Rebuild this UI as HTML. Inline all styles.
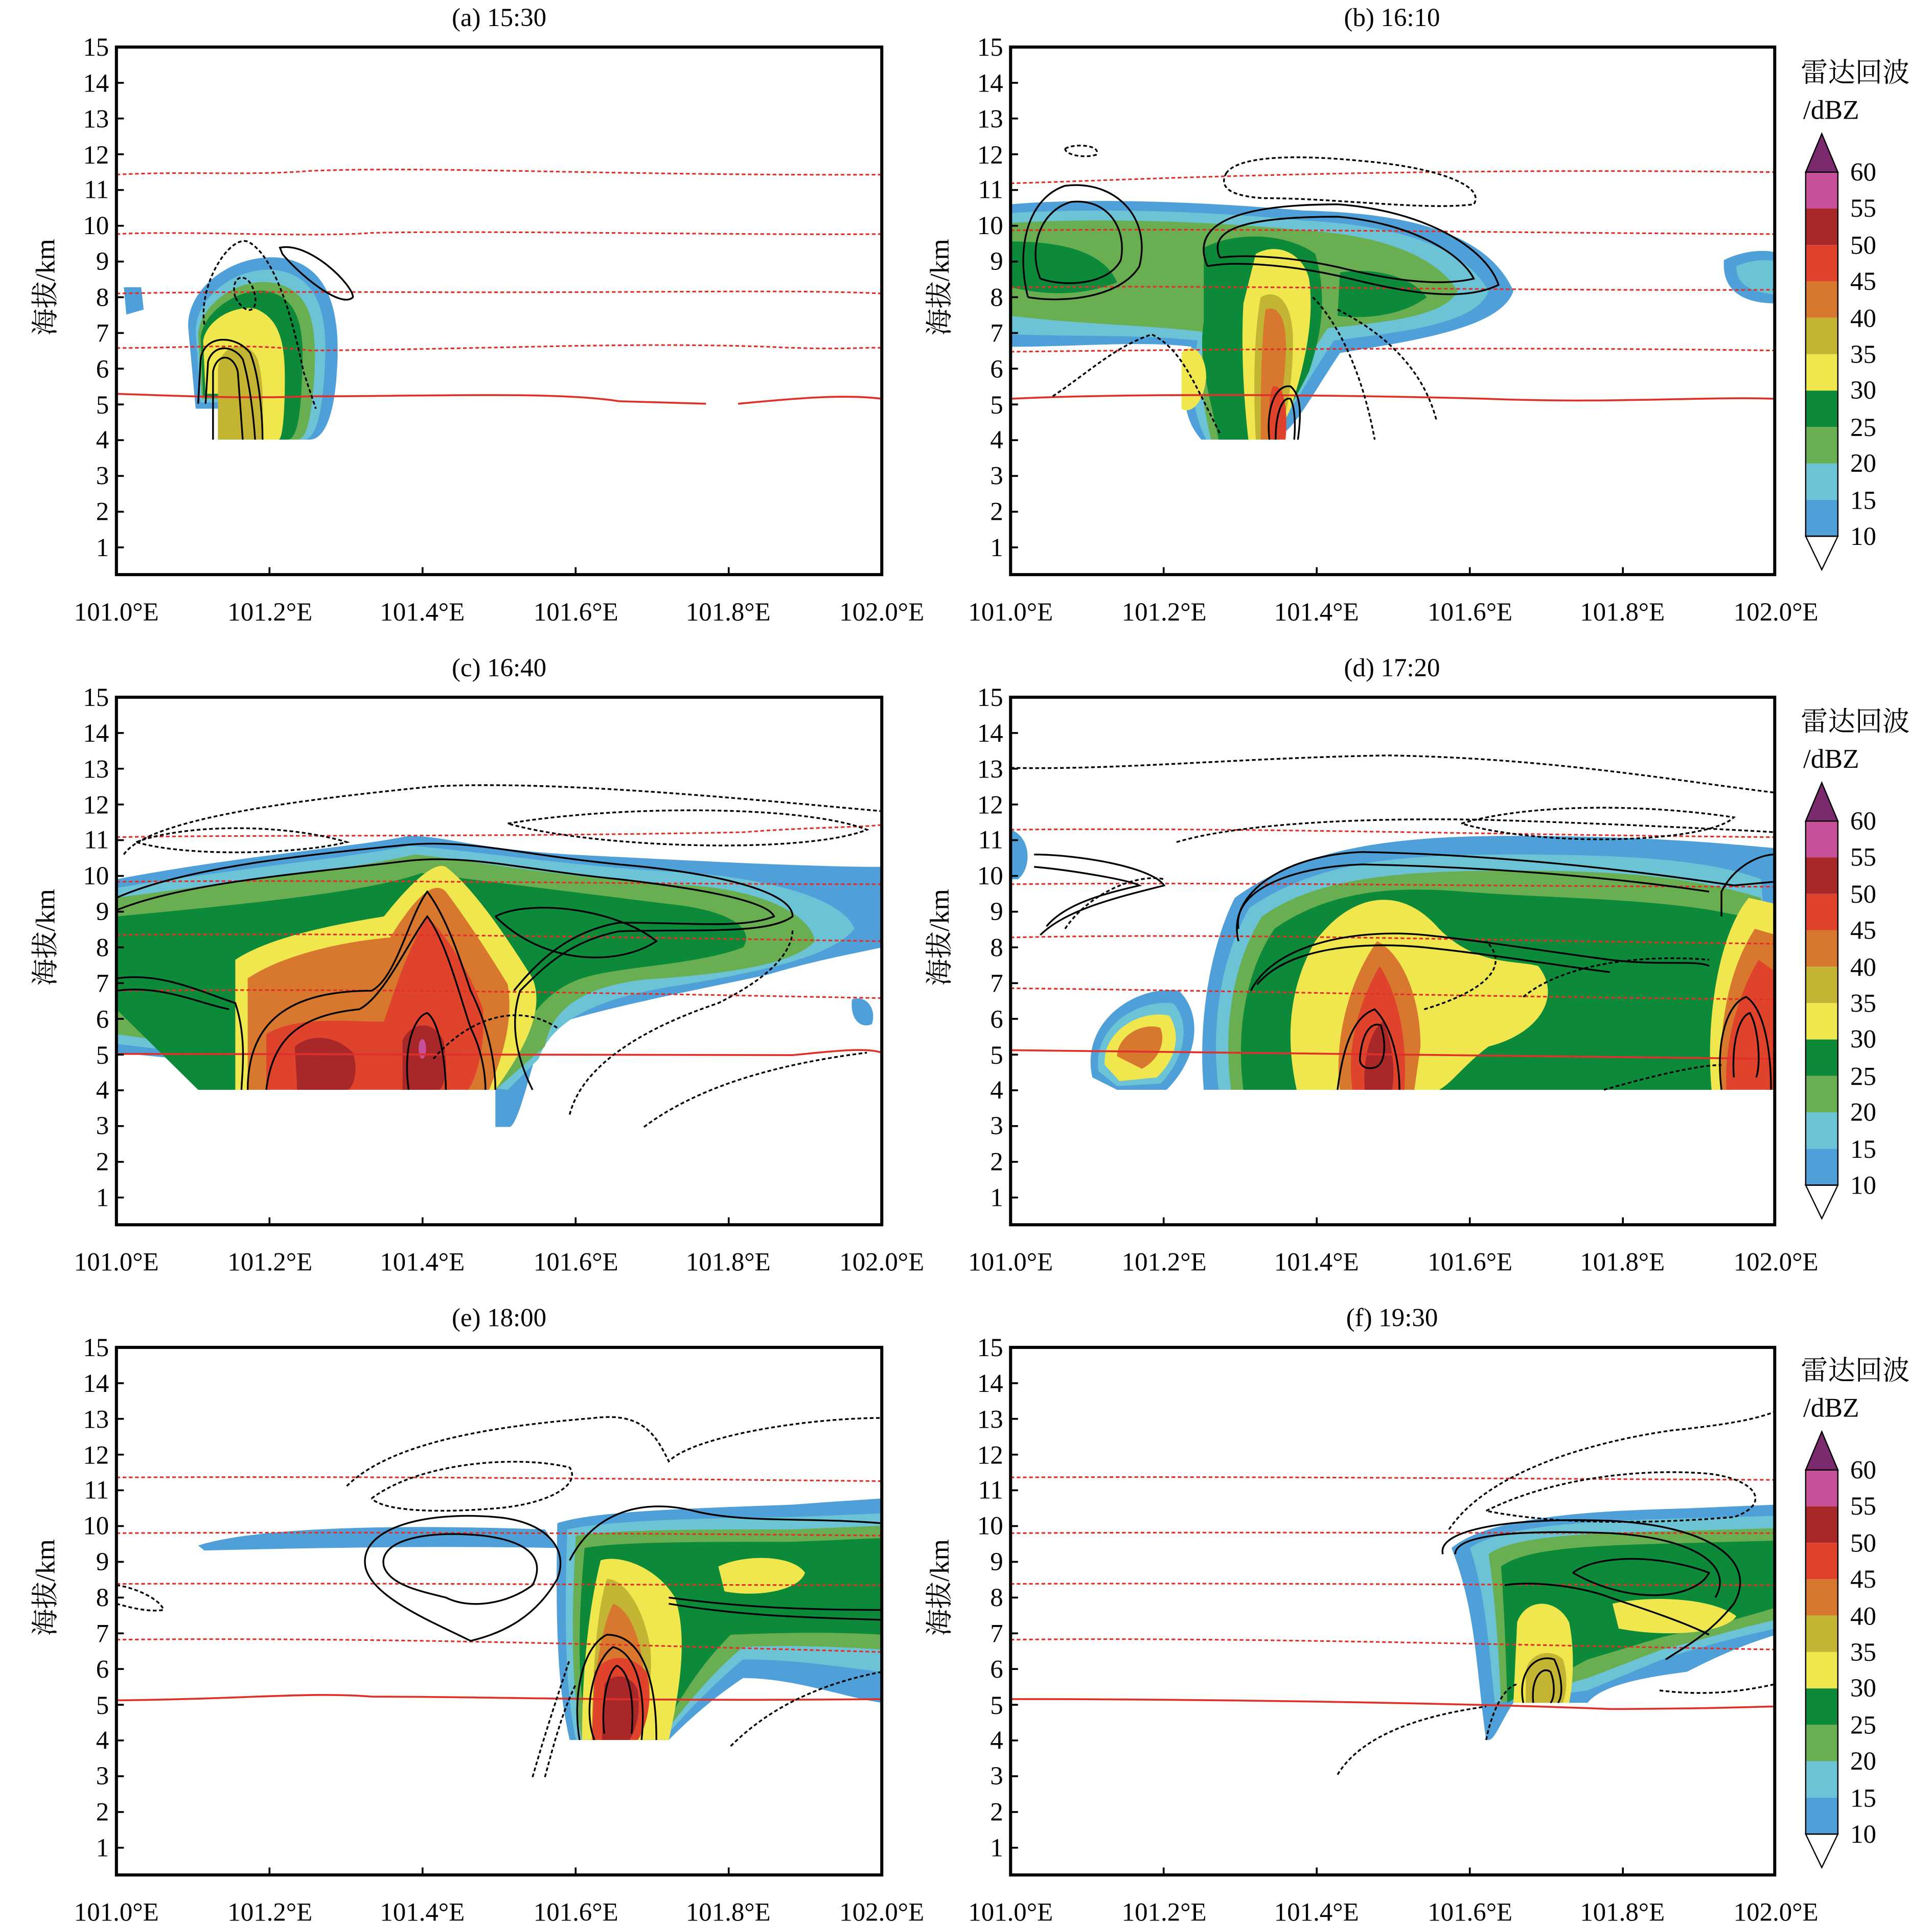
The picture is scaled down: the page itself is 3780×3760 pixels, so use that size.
<!DOCTYPE html>
<html><head><meta charset="utf-8"><style>
html,body{margin:0;padding:0;background:#fff}
svg{display:block}
text{font-family:"Liberation Serif","Noto Serif CJK SC",serif;fill:#000}
</style></head><body>
<svg width="3780" height="3760" viewBox="0 0 1560 1552" preserveAspectRatio="none" xmlns="http://www.w3.org/2000/svg">
<defs>
<clipPath id="pa"><rect x="94" y="38" width="618" height="426"/></clipPath>
</defs>

<!-- ===== Panel a ===== -->
<g clip-path="url(#pa)">
<path d="M100,232 L114,232 L116,250 L102,254 Z" fill="#4f9fd8"/>
<path d="M152,265 C150,235 185,205 225,208 C262,212 276,245 272,300 C270,335 262,355 250,355 L176,355 L176,330 L158,330 Z" fill="#4f9fd8"/>
<path d="M158,268 C158,240 190,215 222,218 C255,222 266,250 262,300 C260,335 255,355 245,355 L176,355 L176,325 L162,325 Z" fill="#6cc3d5"/>
<path d="M160,270 C162,245 192,225 218,228 C248,232 256,255 254,300 C252,335 248,355 240,355 L176,355 L176,322 L163,322 Z" fill="#6aae52"/>
<path d="M162,272 C165,250 195,232 215,235 C240,240 246,262 244,300 C243,335 240,355 232,355 L176,355 L176,320 L164,320 Z" fill="#0c8a3a"/>
<path d="M164,275 C168,255 195,245 208,250 C225,258 230,275 230,305 C230,335 228,355 225,355 L176,355 L176,318 L166,318 Z" fill="#f0e64e"/>
<path d="M176,300 C176,278 200,272 208,290 C214,310 212,340 212,355 L176,355 Z" fill="#c4b434"/>
</g>

<!-- ===== Panel b ===== -->
<g transform="translate(722,0)"><g clip-path="url(#pa)">
<path d="M94,165 C150,160 240,162 330,170 C420,172 480,190 500,235 C490,265 420,275 360,285 C330,330 320,355 300,355 L248,355 C235,340 230,320 240,280 C200,275 150,280 94,280 Z" fill="#4f9fd8"/>
<path d="M94,172 C160,168 250,170 330,178 C410,182 460,200 480,235 C470,262 410,268 355,275 C325,320 312,350 296,355 L252,355 C242,335 238,315 245,275 C200,270 150,272 94,270 Z" fill="#6cc3d5"/>
<path d="M94,180 C160,176 250,178 330,186 C400,190 440,210 455,235 C445,255 400,260 350,265 C320,310 305,345 292,355 L256,355 C250,330 246,310 250,268 C200,262 150,262 94,255 Z" fill="#6aae52"/>
<path d="M94,195 C140,195 170,205 180,228 C150,240 120,238 94,232 Z M250,200 C280,185 320,190 340,205 C350,240 345,270 335,300 C320,330 305,355 290,355 L262,355 C255,320 245,290 250,260 Z M360,220 C390,215 420,225 430,240 C410,255 380,258 358,255 Z" fill="#0c8a3a"/>
<path d="M292,205 C310,195 330,205 335,225 C340,260 330,300 320,330 C312,350 300,355 296,355 L286,355 C282,320 280,280 282,245 Z M232,285 C240,275 252,285 252,305 C250,325 240,335 232,330 Z" fill="#f0e64e"/>
<path d="M296,240 C310,232 322,245 322,275 C322,310 316,345 308,355 L292,355 C290,320 290,270 296,240 Z" fill="#c4b434"/>
<path d="M300,250 C312,245 318,262 316,290 C314,320 310,345 305,355 L296,355 C296,320 296,275 300,250 Z" fill="#d8782e"/>
<path d="M306,312 C316,310 318,335 316,355 L303,355 C303,335 302,318 306,312 Z" fill="#e0432c"/>
<path d="M670,210 C690,200 712,202 712,205 L712,245 C690,245 668,238 670,210 Z" fill="#4f9fd8"/>
<path d="M680,215 C695,208 712,210 712,212 L712,238 C695,236 680,232 680,215 Z" fill="#6cc3d5"/>
</g></g>

<!-- ===== Panel c ===== -->
<g transform="translate(0,525)"><g clip-path="url(#pa)">
<path d="M94,185 C200,165 280,160 330,150 C360,150 380,160 460,165 C560,170 650,175 712,175 L712,240 C690,245 660,250 620,262 C560,275 480,290 440,305 C430,330 420,380 412,385 L400,385 L400,355 L94,325 Z" fill="#4f9fd8"/>
<path d="M94,192 C200,175 280,168 330,158 C370,160 460,175 560,180 C620,185 680,200 690,225 C670,250 600,262 540,272 C480,282 445,300 435,330 L410,355 L94,318 Z" fill="#6cc3d5"/>
<path d="M94,200 C200,185 280,178 335,165 C370,168 460,185 560,190 C620,195 655,215 658,235 C640,255 580,262 520,266 C470,272 445,290 440,320 L400,355 L94,310 Z" fill="#6aae52"/>
<path d="M94,215 C200,205 300,195 340,180 C380,185 460,195 540,205 C590,210 610,225 600,240 C560,255 500,255 470,265 C440,275 420,300 400,355 L160,355 L94,290 Z" fill="#0c8a3a"/>
<path d="M190,250 C220,230 280,220 310,215 C330,190 350,170 360,175 C380,190 405,225 430,265 C440,290 425,320 400,355 L190,355 Z" fill="#f0e64e"/>
<path d="M200,265 C230,245 280,235 315,232 C335,200 350,185 360,195 C375,215 395,245 410,270 C415,300 405,330 395,355 L200,355 Z" fill="#d8782e"/>
<path d="M215,310 C240,295 280,300 310,300 C320,270 330,240 345,215 C360,230 380,260 390,290 C392,320 385,345 378,355 L215,355 Z" fill="#e0432c"/>
<path d="M238,320 C250,310 270,310 285,325 C290,340 285,355 280,355 L240,355 Z M325,315 C332,300 350,298 358,315 C362,335 360,350 355,355 L325,355 Z" fill="#a8282a"/>
<ellipse cx="341" cy="322" rx="3" ry="8" fill="#c7509a"/>
<path d="M688,282 C700,278 708,290 704,302 C695,306 686,298 688,282 Z" fill="#4f9fd8"/>
</g></g>

<!-- ===== Panel d ===== -->
<g transform="translate(722,525)"><g clip-path="url(#pa)">
<path d="M94,145 C110,150 112,175 100,185 L94,185 Z" fill="#4f9fd8"/>
<path d="M160,345 C150,300 195,270 230,275 C250,295 245,330 220,355 L180,355 Z" fill="#4f9fd8"/>
<path d="M165,340 C160,305 195,282 225,285 C240,300 235,330 215,350 L180,352 Z" fill="#6cc3d5"/>
<path d="M170,335 C168,308 198,290 222,295 C232,310 228,330 212,345 L182,348 Z" fill="#f0e64e"/>
<path d="M180,328 C180,312 200,300 215,305 C220,318 212,332 200,338 Z" fill="#d8782e"/>
<path d="M250,355 C245,300 255,240 275,200 C330,160 400,150 500,150 C600,150 660,155 712,160 L712,355 Z" fill="#4f9fd8"/>
<path d="M262,355 C255,300 265,245 287,208 C340,172 400,165 500,165 C600,165 660,170 700,185 L712,355 Z" fill="#6cc3d5"/>
<path d="M272,355 C265,300 275,250 297,215 C340,185 400,178 500,178 C600,178 650,185 700,200 L712,355 Z" fill="#6aae52"/>
<path d="M282,355 C275,300 287,255 307,225 C350,195 400,190 460,195 C520,200 600,200 660,210 L712,220 L712,355 Z" fill="#0c8a3a"/>
<path d="M325,355 C315,310 320,270 340,235 C370,195 410,190 440,225 C470,255 500,250 520,255 C540,280 520,310 480,320 C460,335 450,350 440,355 Z" fill="#f0e64e"/>
<path d="M360,355 C355,320 365,270 390,235 C410,245 425,280 425,320 L420,355 Z" fill="#d8782e"/>
<path d="M370,355 C365,320 375,285 392,255 C405,275 415,310 412,355 Z" fill="#e0432c"/>
<path d="M380,355 C378,330 385,305 395,300 C402,315 405,340 402,355 Z" fill="#a8282a"/>
<path d="M660,355 C655,300 665,230 690,200 L712,205 L712,355 Z" fill="#f0e64e"/>
<path d="M668,355 C665,310 672,260 695,225 L712,230 L712,355 Z" fill="#d8782e"/>
<path d="M672,355 C670,320 680,280 698,250 L712,260 L712,355 Z" fill="#e0432c"/>
</g></g>

<!-- ===== Panel e ===== -->
<g transform="translate(0,1050)"><g clip-path="url(#pa)">
<path d="M160,198 C200,185 300,180 440,185 L450,200 C350,198 250,200 165,202 Z" fill="#4f9fd8"/>
<path d="M450,180 C480,170 560,168 640,165 C680,162 712,160 712,160 L712,325 C680,320 640,305 600,305 C570,325 550,345 540,355 L460,355 C452,320 448,280 450,180 Z" fill="#4f9fd8"/>
<path d="M458,185 C490,178 560,176 640,175 L712,172 L712,300 C670,295 640,290 600,290 C570,315 548,340 535,355 L465,355 C458,320 455,280 458,185 Z" fill="#6cc3d5"/>
<path d="M465,190 C500,185 560,185 640,185 L712,182 L712,282 C680,280 640,278 600,280 C570,305 548,335 532,355 L470,355 C463,320 460,280 465,190 Z" fill="#6aae52"/>
<path d="M472,200 C500,195 560,195 640,195 L712,192 L712,270 C680,268 640,268 590,270 C560,300 545,330 530,355 L475,355 C468,320 465,280 472,200 Z" fill="#0c8a3a"/>
<path d="M485,210 C500,205 530,215 545,240 C555,270 550,310 540,355 L470,355 C470,300 475,250 485,210 Z" fill="#f0e64e"/>
<path d="M580,215 C600,205 640,205 650,220 C645,235 610,240 585,235 Z" fill="#f0e64e"/>
<path d="M490,225 C505,225 520,250 525,280 C528,310 520,340 515,355 L478,355 C478,300 482,250 490,225 Z" fill="#c4b434"/>
<path d="M495,245 C510,250 520,280 520,310 L512,355 L478,355 C478,310 485,265 495,245 Z" fill="#d8782e"/>
<path d="M480,300 C490,285 510,285 522,300 C528,320 522,345 515,355 L478,355 Z" fill="#e0432c"/>
<path d="M488,310 C495,300 510,302 515,315 C518,335 512,350 508,355 L486,355 Z" fill="#a8282a"/>
</g></g>

<!-- ===== Panel f ===== -->
<g transform="translate(722,1050)"><g clip-path="url(#pa)">
<path d="M450,200 C480,175 560,170 640,168 L712,165 L712,270 C680,280 660,290 640,300 C600,305 570,312 560,325 L500,325 C490,340 485,355 480,355 L478,355 C470,300 470,250 450,200 Z" fill="#4f9fd8"/>
<path d="M465,200 C490,182 560,178 640,176 L712,174 L712,265 C680,272 650,280 620,290 L560,315 L485,325 C480,280 478,240 465,200 Z" fill="#6cc3d5"/>
<path d="M480,205 C500,190 560,188 640,186 L712,184 L712,258 C680,265 650,275 620,282 L560,305 L490,325 C488,280 485,240 480,205 Z" fill="#6aae52"/>
<path d="M490,215 C510,200 560,198 640,196 L712,194 L712,248 C680,258 650,265 620,272 L560,290 L495,325 C494,280 492,240 490,215 Z" fill="#0c8a3a"/>
<path d="M503,260 C510,240 535,240 545,260 C550,285 548,310 545,325 L500,325 Z M580,245 C610,238 660,240 680,255 C670,270 620,272 585,265 Z" fill="#f0e64e"/>
<path d="M510,300 C512,285 530,280 540,290 C545,305 542,320 540,325 L510,325 Z" fill="#c4b434"/>
</g></g>

<!-- ===== Red isolines ===== -->
<g fill="none" stroke="#e0302a" stroke-width="1.3">
<g stroke-dasharray="3,2">
<path d="M94,141 C150,138 200,142 250,138 C350,134 500,142 712,141"/>
<path d="M94,189 C150,186 250,192 300,188 C400,186 600,190 712,189"/>
<path d="M94,237 C200,235 300,236 400,236 C550,236 650,234 712,237"/>
<path d="M94,281 C150,281 200,277 250,283 C400,282 500,276 620,280 C680,283 700,280 712,281"/>
<path d="M816,148 C900,146 1100,135 1433,139"/>
<path d="M816,186 C1000,184 1200,188 1433,189"/>
<path d="M816,232 C1000,230 1200,235 1433,234"/>
<path d="M816,284 C1000,282 1200,280 1433,283"/>
<path d="M94,676 C200,674 400,676 600,672 C650,668 700,668 712,666"/>
<path d="M94,712 C300,710 500,714 712,714"/>
<path d="M94,755 C300,753 500,757 712,760"/>
<path d="M94,800 C300,798 500,802 712,806"/>
<path d="M816,670 C1000,668 1200,674 1433,676"/>
<path d="M816,714 C1000,712 1200,716 1433,716"/>
<path d="M816,757 C1000,753 1200,760 1433,762"/>
<path d="M816,798 C1000,800 1200,805 1433,807"/>
<path d="M94,1193 C300,1192 500,1194 712,1196"/>
<path d="M94,1238 C300,1237 500,1238 712,1240"/>
<path d="M94,1279 C300,1278 500,1280 712,1280"/>
<path d="M94,1324 C300,1322 500,1328 712,1334"/>
<path d="M816,1193 C1000,1192 1200,1194 1433,1195"/>
<path d="M816,1238 C1000,1237 1200,1238 1433,1238"/>
<path d="M816,1279 C1000,1278 1200,1280 1433,1280"/>
<path d="M816,1324 C1000,1322 1200,1328 1433,1332"/>
</g>
<path d="M94,318 C150,320 200,322 250,320 C350,320 450,316 500,324 L570,326 M596,326 C640,322 680,318 712,322" stroke-width="1.5"/>
<path d="M816,322 C900,318 1050,318 1200,322 C1300,326 1380,320 1433,322" stroke-width="1.5"/>
<path d="M94,851 C300,850 500,852 640,852 C680,848 700,846 712,850" stroke-width="1.5"/>
<path d="M816,848 C1000,852 1200,854 1433,855" stroke-width="1.5"/>
<path d="M94,1373 C200,1372 250,1366 300,1370 C400,1370 500,1374 712,1372" stroke-width="1.5"/>
<path d="M816,1372 C1000,1372 1200,1376 1300,1380 C1380,1380 1420,1378 1433,1378" stroke-width="1.5"/>
</g>

<!-- Black contours -->
<g fill="none" stroke="#000" stroke-width="1.4">
<path d="M160,326 L162,290 C165,270 190,270 202,285 C210,305 212,340 212,355"/>
<path d="M166,326 L168,292 C172,278 188,278 196,290 C202,310 205,340 206,355"/>
<path d="M172,355 L172,300 C175,285 188,285 192,300 L196,355"/>
<path d="M226,200 C250,195 285,230 285,240 C275,250 240,220 228,205 Z"/>
<g stroke-dasharray="3,2"><path d="M165,262 C160,230 185,190 200,195 C220,205 235,250 245,300 L255,330"/><path d="M190,240 C185,222 200,218 205,235 C210,250 200,258 190,240"/></g>
<path d="M830,240 C820,200 830,160 860,150 C900,145 930,175 920,215 C905,240 860,245 830,240"/>
<path d="M840,225 C830,200 840,170 865,163 C895,160 910,185 905,210 C895,230 860,232 840,225"/>
<path d="M975,215 C960,180 1000,165 1080,165 C1150,170 1200,200 1210,230 C1180,245 1130,235 1090,225 C1050,215 1000,210 975,215"/>
<path d="M985,208 C975,185 1005,175 1080,175 C1140,180 1180,205 1190,225 C1160,232 1120,225 1090,218 C1050,208 1010,205 985,208"/>
<path d="M1025,355 C1022,330 1030,310 1042,312 C1052,320 1050,340 1048,355"/>
<path d="M1030,355 C1030,335 1035,320 1042,322 C1046,330 1046,345 1045,355"/>
<g stroke-dasharray="3,2"><path d="M990,140 C1000,125 1050,125 1100,130 C1160,135 1200,150 1190,165 C1150,170 1080,160 1020,160 C990,158 985,150 990,140"/><path d="M860,120 C870,115 890,118 885,125 C875,128 860,125 860,120"/><path d="M850,320 C880,300 900,280 930,270 C950,280 960,300 975,330 L985,350"/><path d="M1060,240 C1080,260 1100,300 1110,355"/><path d="M1080,250 C1120,270 1150,300 1160,340"/></g>
<path d="M94,725 C150,700 250,690 330,682 C380,678 420,690 500,698 C580,705 640,720 640,740 C620,755 560,750 500,752 C460,760 440,780 420,800 C410,830 420,860 430,880"/>
<path d="M94,735 C150,712 250,705 330,695 C380,690 420,702 500,710 C570,718 620,728 625,740 C600,750 560,745 500,745 C460,752 435,775 415,800"/>
<path d="M94,790 C130,785 160,800 190,810 C200,840 195,870 195,880"/>
<path d="M94,800 C130,795 160,810 185,815"/>
<path d="M200,880 C200,820 240,800 300,800 C320,790 330,740 345,720 C360,740 370,770 380,800 C395,830 400,860 400,880"/>
<path d="M215,880 C220,840 240,820 290,815 C310,805 330,760 345,740 C360,760 370,800 380,830 C390,850 392,870 392,880"/>
<path d="M330,880 C325,845 335,820 345,818 C355,825 360,860 360,880"/>
<path d="M400,740 C430,725 500,735 530,760 C500,780 440,780 400,740"/>
<g stroke-dasharray="3,2"><path d="M100,690 C120,660 250,645 350,635 C450,630 600,645 712,655"/><path d="M110,680 C150,665 230,665 280,680 C240,690 150,692 110,680"/><path d="M410,665 C500,650 650,650 700,670 C650,690 480,685 410,665"/><path d="M350,855 C380,820 420,810 450,830"/><path d="M460,900 C470,860 520,830 580,810 C620,790 640,770 640,750"/><path d="M520,910 C560,880 620,860 700,850"/></g>
<path d="M835,690 C870,690 930,700 940,715 C900,725 860,735 840,755"/>
<path d="M835,700 C860,702 910,710 920,715 C890,722 860,730 845,748"/>
<path d="M1010,800 C1030,760 1100,750 1150,755 C1200,760 1260,770 1300,775 C1340,780 1370,775 1380,780"/>
<path d="M1015,795 C1040,765 1100,760 1150,765 C1200,770 1260,780 1300,785"/>
<path d="M1000,760 C990,720 1040,690 1100,688 C1200,690 1300,700 1400,715 L1433,712"/>
<path d="M1000,750 C995,720 1040,700 1100,698 C1200,700 1300,708 1380,720"/>
<path d="M1080,880 C1085,840 1095,820 1110,815 C1125,830 1130,860 1130,880"/>
<path d="M1098,855 C1100,832 1108,825 1115,828 C1120,845 1118,860 1110,862 C1102,864 1098,860 1098,855"/>
<path d="M1390,880 C1385,840 1395,810 1410,805 C1425,815 1430,850 1430,880"/>
<path d="M1400,870 C1398,840 1405,820 1413,818 C1420,830 1422,860 1418,870"/>
<path d="M1390,740 L1390,720 C1400,700 1420,690 1433,690"/>
<g stroke-dasharray="3,2"><path d="M816,620 C900,622 1000,612 1120,610 C1250,612 1350,630 1433,640"/><path d="M950,680 C1000,665 1100,660 1200,662 C1300,665 1400,670 1433,672"/><path d="M1180,665 C1230,650 1320,648 1400,660 C1380,680 1250,685 1180,665"/><path d="M860,750 C880,720 920,705 940,710"/><path d="M1150,815 C1200,800 1220,780 1200,760"/><path d="M1230,805 C1260,780 1320,770 1380,775"/><path d="M1295,880 C1330,870 1370,860 1390,860"/></g>
<path d="M295,1265 C290,1235 340,1220 400,1225 C440,1228 460,1250 450,1275 C430,1310 400,1320 380,1325 C350,1310 300,1290 295,1265"/>
<path d="M310,1265 C305,1245 340,1235 390,1240 C430,1245 440,1260 430,1280 C410,1295 380,1300 360,1290 C340,1285 315,1280 310,1265"/>
<path d="M460,1260 C480,1220 520,1210 560,1220 C600,1230 650,1225 712,1230"/>
<path d="M540,1290 C600,1298 650,1300 712,1300"/>
<path d="M540,1295 C600,1305 650,1306 712,1308"/>
<path d="M480,1405 C470,1380 480,1340 495,1330 C515,1335 522,1370 518,1405"/>
<path d="M488,1400 C485,1380 490,1350 498,1345 C510,1350 512,1380 510,1400"/>
<path d="M468,1405 C462,1370 470,1330 490,1320 C520,1320 530,1360 530,1405"/>
<g stroke-dasharray="3,2"><path d="M280,1200 C320,1160 420,1150 480,1145 C520,1140 530,1160 540,1180 C560,1160 650,1145 712,1145"/><path d="M300,1210 C340,1180 420,1175 460,1185 C470,1200 440,1215 400,1218 C350,1222 310,1220 300,1210"/><path d="M94,1280 C110,1282 130,1292 132,1300 C120,1302 105,1298 94,1295"/><path d="M430,1435 C440,1400 450,1370 460,1340"/><path d="M440,1435 C448,1405 455,1380 465,1360"/><path d="M590,1410 C620,1380 660,1360 712,1350"/></g>
<path d="M1165,1255 C1160,1235 1220,1225 1300,1228 C1380,1232 1420,1260 1400,1295 C1380,1320 1360,1330 1345,1340"/>
<path d="M1175,1255 C1175,1240 1220,1235 1300,1238 C1370,1242 1400,1265 1385,1290"/>
<path d="M1270,1270 C1290,1255 1340,1255 1380,1270 C1370,1290 1320,1298 1270,1270"/>
<path d="M1230,1375 C1225,1350 1240,1335 1255,1340 C1262,1355 1262,1370 1258,1375"/>
<path d="M1238,1375 C1236,1355 1245,1345 1252,1350 C1256,1360 1255,1372 1252,1375"/>
<path d="M1215,1280 C1240,1276 1280,1282 1300,1290 C1330,1300 1360,1310 1380,1320"/>
<g stroke-dasharray="3,2"><path d="M1170,1235 C1200,1190 1280,1165 1350,1155 C1400,1150 1420,1145 1433,1140"/><path d="M1200,1220 C1250,1195 1320,1185 1380,1190 C1420,1195 1430,1215 1400,1225 C1340,1230 1260,1232 1200,1220"/><path d="M1080,1433 C1100,1400 1150,1385 1200,1378"/><path d="M1340,1365 C1380,1370 1410,1365 1433,1360"/><path d="M1200,1405 C1205,1380 1215,1362 1225,1360"/></g>
</g>

<!-- ===== Frames & axes ===== -->
<g fill="none" stroke="#000" stroke-width="2.5">
<rect x="94" y="38" width="618" height="426"/><rect x="816" y="38" width="617" height="426"/>
<rect x="94" y="563" width="618" height="426"/><rect x="816" y="563" width="617" height="426"/>
<rect x="94" y="1088" width="618" height="426"/><rect x="816" y="1088" width="617" height="426"/>
</g>
<g stroke="#000" stroke-width="1.5">
<path d="M94,38h6M94,66.9h6M94,95.7h6M94,124.6h6M94,153.4h6M94,182.3h6M94,211.2h6M94,240h6M94,268.9h6M94,297.7h6M94,326.6h6M94,355.4h6M94,384.3h6M94,413.2h6M94,442h6M217.6,464v-6M341.2,464v-6M464.8,464v-6M588.4,464v-6"/>
<path transform="translate(722,0)" d="M94,38h6M94,66.9h6M94,95.7h6M94,124.6h6M94,153.4h6M94,182.3h6M94,211.2h6M94,240h6M94,268.9h6M94,297.7h6M94,326.6h6M94,355.4h6M94,384.3h6M94,413.2h6M94,442h6M217.6,464v-6M341.2,464v-6M464.8,464v-6M588.4,464v-6"/>
<path transform="translate(0,525)" d="M94,38h6M94,66.9h6M94,95.7h6M94,124.6h6M94,153.4h6M94,182.3h6M94,211.2h6M94,240h6M94,268.9h6M94,297.7h6M94,326.6h6M94,355.4h6M94,384.3h6M94,413.2h6M94,442h6M217.6,464v-6M341.2,464v-6M464.8,464v-6M588.4,464v-6"/>
<path transform="translate(722,525)" d="M94,38h6M94,66.9h6M94,95.7h6M94,124.6h6M94,153.4h6M94,182.3h6M94,211.2h6M94,240h6M94,268.9h6M94,297.7h6M94,326.6h6M94,355.4h6M94,384.3h6M94,413.2h6M94,442h6M217.6,464v-6M341.2,464v-6M464.8,464v-6M588.4,464v-6"/>
<path transform="translate(0,1050)" d="M94,38h6M94,66.9h6M94,95.7h6M94,124.6h6M94,153.4h6M94,182.3h6M94,211.2h6M94,240h6M94,268.9h6M94,297.7h6M94,326.6h6M94,355.4h6M94,384.3h6M94,413.2h6M94,442h6M217.6,464v-6M341.2,464v-6M464.8,464v-6M588.4,464v-6"/>
<path transform="translate(722,1050)" d="M94,38h6M94,66.9h6M94,95.7h6M94,124.6h6M94,153.4h6M94,182.3h6M94,211.2h6M94,240h6M94,268.9h6M94,297.7h6M94,326.6h6M94,355.4h6M94,384.3h6M94,413.2h6M94,442h6M217.6,464v-6M341.2,464v-6M464.8,464v-6M588.4,464v-6"/>
</g>

<!-- Tick labels -->
<g font-size="21">
<g text-anchor="end">
<g><text x="88" y="45">15</text><text x="88" y="74">14</text><text x="88" y="103">13</text><text x="88" y="132">12</text><text x="88" y="160">11</text><text x="88" y="189">10</text><text x="88" y="218">9</text><text x="88" y="247">8</text><text x="88" y="276">7</text><text x="88" y="305">6</text><text x="88" y="334">5</text><text x="88" y="362">4</text><text x="88" y="391">3</text><text x="88" y="420">2</text><text x="88" y="449">1</text></g>
<g transform="translate(722,0)"><text x="88" y="45">15</text><text x="88" y="74">14</text><text x="88" y="103">13</text><text x="88" y="132">12</text><text x="88" y="160">11</text><text x="88" y="189">10</text><text x="88" y="218">9</text><text x="88" y="247">8</text><text x="88" y="276">7</text><text x="88" y="305">6</text><text x="88" y="334">5</text><text x="88" y="362">4</text><text x="88" y="391">3</text><text x="88" y="420">2</text><text x="88" y="449">1</text></g>
<g transform="translate(0,525)"><text x="88" y="45">15</text><text x="88" y="74">14</text><text x="88" y="103">13</text><text x="88" y="132">12</text><text x="88" y="160">11</text><text x="88" y="189">10</text><text x="88" y="218">9</text><text x="88" y="247">8</text><text x="88" y="276">7</text><text x="88" y="305">6</text><text x="88" y="334">5</text><text x="88" y="362">4</text><text x="88" y="391">3</text><text x="88" y="420">2</text><text x="88" y="449">1</text></g>
<g transform="translate(722,525)"><text x="88" y="45">15</text><text x="88" y="74">14</text><text x="88" y="103">13</text><text x="88" y="132">12</text><text x="88" y="160">11</text><text x="88" y="189">10</text><text x="88" y="218">9</text><text x="88" y="247">8</text><text x="88" y="276">7</text><text x="88" y="305">6</text><text x="88" y="334">5</text><text x="88" y="362">4</text><text x="88" y="391">3</text><text x="88" y="420">2</text><text x="88" y="449">1</text></g>
<g transform="translate(0,1050)"><text x="88" y="45">15</text><text x="88" y="74">14</text><text x="88" y="103">13</text><text x="88" y="132">12</text><text x="88" y="160">11</text><text x="88" y="189">10</text><text x="88" y="218">9</text><text x="88" y="247">8</text><text x="88" y="276">7</text><text x="88" y="305">6</text><text x="88" y="334">5</text><text x="88" y="362">4</text><text x="88" y="391">3</text><text x="88" y="420">2</text><text x="88" y="449">1</text></g>
<g transform="translate(722,1050)"><text x="88" y="45">15</text><text x="88" y="74">14</text><text x="88" y="103">13</text><text x="88" y="132">12</text><text x="88" y="160">11</text><text x="88" y="189">10</text><text x="88" y="218">9</text><text x="88" y="247">8</text><text x="88" y="276">7</text><text x="88" y="305">6</text><text x="88" y="334">5</text><text x="88" y="362">4</text><text x="88" y="391">3</text><text x="88" y="420">2</text><text x="88" y="449">1</text></g>
</g>
<g text-anchor="middle">
<g><text x="94" y="501">101.0°E</text><text x="218" y="501">101.2°E</text><text x="341" y="501">101.4°E</text><text x="465" y="501">101.6°E</text><text x="588" y="501">101.8°E</text><text x="712" y="501">102.0°E</text></g>
<g transform="translate(722,0)"><text x="94" y="501">101.0°E</text><text x="218" y="501">101.2°E</text><text x="341" y="501">101.4°E</text><text x="465" y="501">101.6°E</text><text x="588" y="501">101.8°E</text><text x="712" y="501">102.0°E</text></g>
<g transform="translate(0,525)"><text x="94" y="501">101.0°E</text><text x="218" y="501">101.2°E</text><text x="341" y="501">101.4°E</text><text x="465" y="501">101.6°E</text><text x="588" y="501">101.8°E</text><text x="712" y="501">102.0°E</text></g>
<g transform="translate(722,525)"><text x="94" y="501">101.0°E</text><text x="218" y="501">101.2°E</text><text x="341" y="501">101.4°E</text><text x="465" y="501">101.6°E</text><text x="588" y="501">101.8°E</text><text x="712" y="501">102.0°E</text></g>
<g transform="translate(0,1050)"><text x="94" y="501">101.0°E</text><text x="218" y="501">101.2°E</text><text x="341" y="501">101.4°E</text><text x="465" y="501">101.6°E</text><text x="588" y="501">101.8°E</text><text x="712" y="501">102.0°E</text></g>
<g transform="translate(722,1050)"><text x="94" y="501">101.0°E</text><text x="218" y="501">101.2°E</text><text x="341" y="501">101.4°E</text><text x="465" y="501">101.6°E</text><text x="588" y="501">101.8°E</text><text x="712" y="501">102.0°E</text></g>
<text x="403" y="21">(a) 15:30</text><text x="1124" y="21">(b) 16:10</text>
<text x="403" y="546">(c) 16:40</text><text x="1124" y="546">(d) 17:20</text>
<text x="403" y="1071">(e) 18:00</text><text x="1124" y="1071">(f) 19:30</text>
</g>
<g font-size="22">
<text transform="translate(44,232) rotate(-90)" text-anchor="middle">海拔/km</text>
<text transform="translate(766,232) rotate(-90)" text-anchor="middle">海拔/km</text>
<text transform="translate(44,757) rotate(-90)" text-anchor="middle">海拔/km</text>
<text transform="translate(766,757) rotate(-90)" text-anchor="middle">海拔/km</text>
<text transform="translate(44,1282) rotate(-90)" text-anchor="middle">海拔/km</text>
<text transform="translate(766,1282) rotate(-90)" text-anchor="middle">海拔/km</text>
</g>
</g>

<!-- ===== Colorbars ===== -->
<g>
<text x="1454" y="66" font-size="22">雷达回波</text><text x="1456" y="96" font-size="22">/dBZ</text>
<path d="M1458,139 L1471,108 L1484,139 Z" fill="#7b2a6e" stroke="#000"/>
<rect x="1458" y="139" width="26" height="29.4" fill="#c7509a"/>
<rect x="1458" y="168.4" width="26" height="29.4" fill="#a8282a"/>
<rect x="1458" y="197.8" width="26" height="29.4" fill="#e0432c"/>
<rect x="1458" y="227.2" width="26" height="29.4" fill="#d8782e"/>
<rect x="1458" y="256.6" width="26" height="29.4" fill="#c4b434"/>
<rect x="1458" y="286" width="26" height="29.4" fill="#f0e64e"/>
<rect x="1458" y="315.4" width="26" height="29.4" fill="#0c8a3a"/>
<rect x="1458" y="344.8" width="26" height="29.4" fill="#6aae52"/>
<rect x="1458" y="374.2" width="26" height="29.4" fill="#6cc3d5"/>
<rect x="1458" y="403.6" width="26" height="29.4" fill="#4f9fd8"/>
<path d="M1458,433 L1471,460 L1484,433 Z" fill="#fff" stroke="#000"/>
<rect x="1458" y="139" width="26" height="294" fill="none" stroke="#000"/>
<g font-size="21"><text x="1494" y="146">60</text><text x="1494" y="175">55</text><text x="1494" y="205">50</text><text x="1494" y="234">45</text><text x="1494" y="264">40</text><text x="1494" y="293">35</text><text x="1494" y="322">30</text><text x="1494" y="352">25</text><text x="1494" y="381">20</text><text x="1494" y="411">15</text><text x="1494" y="440">10</text></g>
</g>
<g transform="translate(0,524)">
<text x="1454" y="66" font-size="22">雷达回波</text><text x="1456" y="96" font-size="22">/dBZ</text>
<path d="M1458,139 L1471,108 L1484,139 Z" fill="#7b2a6e" stroke="#000"/>
<rect x="1458" y="139" width="26" height="29.4" fill="#c7509a"/>
<rect x="1458" y="168.4" width="26" height="29.4" fill="#a8282a"/>
<rect x="1458" y="197.8" width="26" height="29.4" fill="#e0432c"/>
<rect x="1458" y="227.2" width="26" height="29.4" fill="#d8782e"/>
<rect x="1458" y="256.6" width="26" height="29.4" fill="#c4b434"/>
<rect x="1458" y="286" width="26" height="29.4" fill="#f0e64e"/>
<rect x="1458" y="315.4" width="26" height="29.4" fill="#0c8a3a"/>
<rect x="1458" y="344.8" width="26" height="29.4" fill="#6aae52"/>
<rect x="1458" y="374.2" width="26" height="29.4" fill="#6cc3d5"/>
<rect x="1458" y="403.6" width="26" height="29.4" fill="#4f9fd8"/>
<path d="M1458,433 L1471,460 L1484,433 Z" fill="#fff" stroke="#000"/>
<rect x="1458" y="139" width="26" height="294" fill="none" stroke="#000"/>
<g font-size="21"><text x="1494" y="146">60</text><text x="1494" y="175">55</text><text x="1494" y="205">50</text><text x="1494" y="234">45</text><text x="1494" y="264">40</text><text x="1494" y="293">35</text><text x="1494" y="322">30</text><text x="1494" y="352">25</text><text x="1494" y="381">20</text><text x="1494" y="411">15</text><text x="1494" y="440">10</text></g>
</g>
<g transform="translate(0,1048)">
<text x="1454" y="66" font-size="22">雷达回波</text><text x="1456" y="96" font-size="22">/dBZ</text>
<path d="M1458,139 L1471,108 L1484,139 Z" fill="#7b2a6e" stroke="#000"/>
<rect x="1458" y="139" width="26" height="29.4" fill="#c7509a"/>
<rect x="1458" y="168.4" width="26" height="29.4" fill="#a8282a"/>
<rect x="1458" y="197.8" width="26" height="29.4" fill="#e0432c"/>
<rect x="1458" y="227.2" width="26" height="29.4" fill="#d8782e"/>
<rect x="1458" y="256.6" width="26" height="29.4" fill="#c4b434"/>
<rect x="1458" y="286" width="26" height="29.4" fill="#f0e64e"/>
<rect x="1458" y="315.4" width="26" height="29.4" fill="#0c8a3a"/>
<rect x="1458" y="344.8" width="26" height="29.4" fill="#6aae52"/>
<rect x="1458" y="374.2" width="26" height="29.4" fill="#6cc3d5"/>
<rect x="1458" y="403.6" width="26" height="29.4" fill="#4f9fd8"/>
<path d="M1458,433 L1471,460 L1484,433 Z" fill="#fff" stroke="#000"/>
<rect x="1458" y="139" width="26" height="294" fill="none" stroke="#000"/>
<g font-size="21"><text x="1494" y="146">60</text><text x="1494" y="175">55</text><text x="1494" y="205">50</text><text x="1494" y="234">45</text><text x="1494" y="264">40</text><text x="1494" y="293">35</text><text x="1494" y="322">30</text><text x="1494" y="352">25</text><text x="1494" y="381">20</text><text x="1494" y="411">15</text><text x="1494" y="440">10</text></g>
</g>
</svg>
</body></html>
